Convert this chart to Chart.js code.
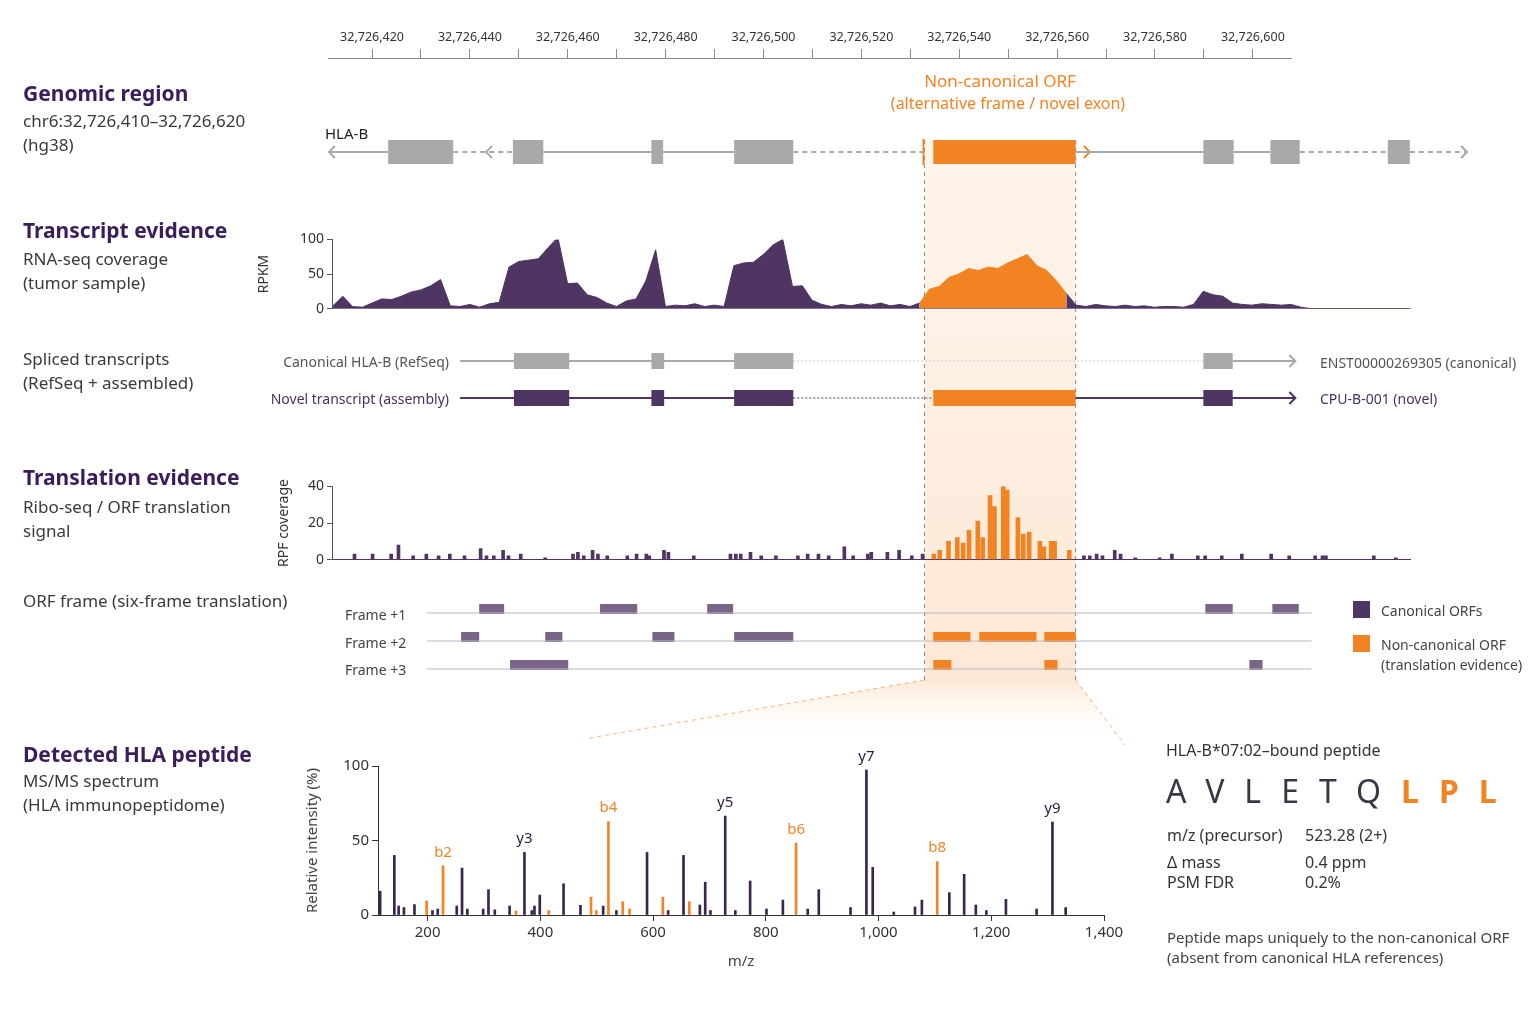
<!DOCTYPE html>
<html><head><meta charset="utf-8">
<script src="https://cdn.jsdelivr.net/npm/chart.js@4.4.1/dist/chart.umd.min.js"></script>
<style>
body{margin:0;background:#fff;width:1536px;height:1024px;position:relative;overflow:hidden;font-family:"Noto Sans",sans-serif}
canvas{position:absolute}
.t{position:absolute;white-space:nowrap;transform:translateY(-50%);color:#333}
.h{font-weight:700;font-size:21px;color:#3b1d5a}
.s{font-size:17px;color:#3a3a3a;line-height:24px}
</style></head><body>
<script>
// ---------------- DATA ----------------
const genomeTicks = [420,440,460,480,500,520,540,560,580,600]; // 32,726,xxx
const orfRange = [532.9, 563.8];
// RNA-seq coverage (RPKM), 2-bp bins starting at 32,726,412
const rnaStart = 412, rnaStep = 2;
const rnaCoverage = [4,18,3,2,8,14,13,18,24,27,33,42,4,3,6,2,7,9,60,68,70,72,88,103,36,37,20,16,8,3,11,14,40,85,3,5,4,7,3,5,3,62,66,67,78,92,100,32,33,12,6,3,6,4,7,5,8,4,6,3,8,28,32,45,50,58,55,60,58,66,72,78,62,55,40,22,5,3,6,4,3,5,3,4,2,3,3,2,6,25,20,18,8,6,5,7,6,5,6,2,0,0,0,0,0,0,0,0,0,0,0];
const orfBins = [60,75];
// Ribo-seq RPF coverage
const riboPos = [416.4,420.1,423.9,425.4,428.4,431.1,433.6,435.9,438.9,442.2,443.4,444.9,446.8,447.9,450.4,455.4,461.1,462.1,463.3,465.1,466.2,468.1,472.2,474.1,476.1,476.7,479.7,480.6,485.8,493.3,494.4,495.4,497.4,499.6,502.6,507.1,509.1,511.3,513.4,516.6,518.4,521.4,522.1,525.4,527.8,530.4,532.6,565.6,566.8,568.2,569.4,571.9,573.1,576.1,581.1,583.6,588.9,590.4,593.8,597.9,603.9,607.6,612.9,614.4,615.1,624.9,629.4];
const riboVal = [3,3,3,8,2,3,2,3,2,6,2,2,5,2,3,1,3,4,2,5,3,2,2,3,3,2,5,4,2,3,3,3,4,2,2,2,3,3,2,7,2,3,4,4,5,2,3,2,2,3,2,5,3,1,1,3,2,2,2,3,3,2,2,2,2,2,1];
const riboOrfPos = [534.9,536.1,537.9,539.7,540.9,542.1,543.9,544.9,546.4,547.3,549.1,549.9,552.1,553.2,554.4,556.6,557.4,558.9,559.6,562.6];
const riboOrfVal = [3,5,10,12,9,16,21,12,35,29,40,38,23,14,15,10,7,10,10,5];
// Gene model exons (HLA-B), genomic coords
const geneExons = [[423.3,436.6],[448.8,455.0],[477.1,479.5],[494.0,506.1],[589.9,596.1],[603.6,609.6],[627.6,632.1]];
const transcriptExons = [[449.0,460.3],[477.1,479.7],[494.0,506.1],[589.9,595.9]];
const transcriptSpan = [438.0,608.7];
// Frames
const frame1 = [[441.9,447.0],[466.6,474.2],[488.5,493.8],[590.3,595.9],[604.0,609.4]];
const frame2 = [[438.2,441.9],[455.4,458.9],[477.3,481.8],[494.0,506.1]];
const frame2Orf = [[534.7,542.3],[544.1,555.8],[557.4,563.8]];
const frame3 = [[448.2,460.1],[599.3,602.0]];
const frame3Orf = [[534.7,538.4],[557.4,560.1]];
const frameSpan = [431.2,612.0];
// MS/MS spectrum
const specMz = [115.8,141,148.6,158,176.7,208.6,218,251.7,261.1,270.5,298.6,308,319.2,345.5,371.8,384.9,389.6,399,441.2,471.2,511.5,534.9,589.3,626.8,654,683,692.5,701.8,728,745.9,772.2,801.2,830.3,874.4,894,950.3,978.5,989.7,1027,1064.7,1076.9,1125.6,1151.9,1172.6,1191.3,1226,1280.4,1308.5,1332];
const specInt = [16,40,6,5,7,3,4,6,31.5,4,4,17,3.5,6,42,3,6,13.4,21,6.5,6,3,42,3,40,6.7,22,3,66.4,3,22.8,4,10,4,17,5,97.3,32,2,5.4,10,15,27.3,6.7,3,10.5,4,62.4,5];
const specOrfMz = [198.3,227.4,356.8,414.9,489.9,499.3,520.8,546.2,558.4,617.4,664.3,853.7,1104];
const specOrfInt = [9.4,33,2.7,3,12,3,62.6,9,4,12,9,48.3,35.8];
const ionLabels = [["b2",227.4,"o"],["y3",371.8,"p"],["b4",520.8,"o"],["y5",728,"p"],["b6",853.7,"o"],["y7",978.5,"p"],["b8",1104,"o"],["y9",1308.5,"p"]];

// ---------------- STYLE ----------------
const PURPLE='#4f3562', ORANGE='#f28322', GRAY='#a9a9a9', DARK='#3b1d5a';
Chart.defaults.font.family='"Noto Sans", sans-serif';
Chart.defaults.color='#333';
Chart.defaults.animation=false;
Chart.defaults.plugins.legend.display=false;
Chart.defaults.plugins.tooltip.enabled=false;

function mk(left,top,w,h,z){const c=document.createElement('canvas');c.width=w;c.height=h;c.style.left=left+'px';c.style.top=top+'px';c.style.width=w+'px';c.style.height=h+'px';c.style.zIndex=z||1;document.body.appendChild(c);return c.getContext('2d');}
function txt(x,y,s,css,align){const d=document.createElement('div');d.className='t';d.innerHTML=s;d.style.left=x+'px';d.style.top=y+'px';if(css)d.style.cssText+=css;if(align==='r'){d.style.transform='translate(-100%,-50%)';}if(align==='c'){d.style.transform='translate(-50%,-50%)';}d.style.zIndex=5;document.body.appendChild(d);return d;}

// ---------------- TRACK LAYER (full page) ----------------
const PXBP=4.893, X0=411-328/PXBP, X1=X0+1536/PXBP;
const ROW={gene:152,canon:361,novel:398,f1:613,f2:641,f3:669};
const tds=[];
function seg(a,b,y,col,w,dash){tds.push({data:[{x:a,y:y},{x:b,y:y}],borderColor:col,borderWidth:w,borderDash:dash||[],borderCapStyle:'butt',pointRadius:0,showLine:true,fill:false});}
function chev(x,y,dir,col){const d=6/PXBP*dir;tds.push({data:[{x:x-d,y:y-6},{x:x,y:y},{x:x-d,y:y+6}],borderColor:col,borderWidth:2,pointRadius:0,showLine:true,fill:false});}
// gene model
seg(411.4,423.3,ROW.gene,GRAY,2); seg(436.6,448.8,ROW.gene,GRAY,2,[5,4]);
seg(455,477.1,ROW.gene,GRAY,2); seg(479.5,494,ROW.gene,GRAY,2);
seg(506.1,532.9,ROW.gene,GRAY,2,[5,4]); seg(563.8,589.9,ROW.gene,GRAY,2);
seg(596.1,603.6,ROW.gene,GRAY,2); seg(609.6,627.6,ROW.gene,GRAY,2,[5,4]); seg(632.1,643.6,ROW.gene,GRAY,2,[5,4]);
chev(411.2,ROW.gene,-1,GRAY); chev(443.3,ROW.gene,-1,GRAY); chev(643.8,ROW.gene,1,GRAY);
geneExons.forEach(e=>seg(e[0],e[1],ROW.gene,GRAY,24));
seg(orfRange[0]-0.4,orfRange[0],ROW.gene,ORANGE,26);
seg(534.7,563.8,ROW.gene,ORANGE,24); chev(566.7,ROW.gene,1,ORANGE);
// transcripts
seg(transcriptSpan[0],506.1,ROW.canon,GRAY,2); seg(506.1,589.9,ROW.canon,'#c8c8c8',1,[2,2]); seg(595.9,transcriptSpan[1],ROW.canon,GRAY,2);
chev(transcriptSpan[1],ROW.canon,1,GRAY);
transcriptExons.forEach(e=>seg(e[0],e[1],ROW.canon,GRAY,16));
seg(transcriptSpan[0],506.1,ROW.novel,PURPLE,2); seg(506.1,534.7,ROW.novel,PURPLE,1,[2,2]); seg(563.8,transcriptSpan[1],ROW.novel,PURPLE,2);
chev(transcriptSpan[1],ROW.novel,1,PURPLE);
transcriptExons.forEach(e=>seg(e[0],e[1],ROW.novel,PURPLE,16));
seg(534.7,563.8,ROW.novel,ORANGE,16);
// frames
[['f1',frame1,[]],['f2',frame2,frame2Orf],['f3',frame3,frame3Orf]].forEach(([k,p,o])=>{
  seg(frameSpan[0],frameSpan[1],ROW[k],'#b9b9c2',1.2);
  p.forEach(e=>seg(e[0],e[1],ROW[k]-4,'#7a6488',10));
  o.forEach(e=>seg(e[0],e[1],ROW[k]-4,ORANGE,10));
});
const bandPlugin={id:'band',beforeDatasetsDraw(ch){const c=ch.ctx,x=ch.scales.x,y=ch.scales.y;
  const a=x.getPixelForValue(orfRange[0]),b=x.getPixelForValue(orfRange[1]);
  const t=y.getPixelForValue(140),bt=y.getPixelForValue(680);
  c.save();
  let g=c.createLinearGradient(0,t,0,bt);g.addColorStop(0,'rgba(253,236,220,0.55)');g.addColorStop(1,'rgba(252,224,198,0.75)');
  c.fillStyle=g;c.fillRect(a,t,b-a,bt-t);
  const fl=x.getPixelForValue(X0+590/PXBP), fr=x.getPixelForValue(X0+1125/PXBP), fb=y.getPixelForValue(745);
  g=c.createLinearGradient(0,bt,0,fb);g.addColorStop(0,'rgba(252,224,198,0.7)');g.addColorStop(1,'rgba(255,255,255,0)');
  c.fillStyle=g;c.beginPath();c.moveTo(a,bt);c.lineTo(b,bt);c.lineTo(fr,fb);c.lineTo(fl,fb-7);c.closePath();c.fill();
  c.setLineDash([4,4]);c.strokeStyle='rgba(242,131,34,0.6)';c.lineWidth=1;
  c.beginPath();c.moveTo(a,bt);c.lineTo(fl,fb-7);c.moveTo(b,bt);c.lineTo(fr,fb);c.stroke();
  c.strokeStyle='#8a8a8a';c.beginPath();c.moveTo(a,t);c.lineTo(a,bt);c.moveTo(b,t);c.lineTo(b,bt);c.stroke();
  c.restore();}};
new Chart(mk(0,0,1536,1024,0),{type:'scatter',data:{datasets:tds},plugins:[bandPlugin],
 options:{responsive:false,devicePixelRatio:1,layout:{padding:0},scales:{x:{type:'linear',min:X0,max:X1,display:false},y:{min:0,max:1024,reverse:true,display:false}}}});

// ---------------- GENOME AXIS ----------------
new Chart(mk(328,10,964,50),{type:'scatter',data:{datasets:[{data:[]}]},options:{responsive:false,devicePixelRatio:1,layout:{padding:0},
 scales:{y:{display:false,min:0,max:1},x:{type:'linear',position:'top',min:411,max:608,offset:false,
  afterBuildTicks:s=>{s.ticks=[];for(let v=420;v<=600;v+=10)s.ticks.push({value:v});},
  afterFit:s=>{s.height=48;},
  ticks:{autoSkip:false,maxRotation:0,font:{size:12.5},color:'#333',padding:4,callback:v=>genomeTicks.includes(v)?'32,726,'+v:''},
  grid:{drawOnChartArea:false,tickLength:9,color:'#8a8a8a'},border:{color:'#8a8a8a'}}}}});

// ---------------- RNA-seq ----------------
const rnaPurple=rnaCoverage.map((v,i)=>({x:rnaStart+i*rnaStep,y:(i>orfBins[0]&&i<orfBins[1])?null:v}));
const rnaOrange=rnaCoverage.map((v,i)=>({x:rnaStart+i*rnaStep,y:(i>=orfBins[0]&&i<=orfBins[1])?v:null}));
new Chart(mk(252,228,1170,92),{type:'line',data:{datasets:[
 {data:rnaPurple,borderColor:PURPLE,backgroundColor:PURPLE,borderWidth:1,fill:'origin',pointRadius:0,spanGaps:false},
 {data:rnaOrange,borderColor:ORANGE,backgroundColor:ORANGE,borderWidth:1,fill:'origin',pointRadius:0}]},
 options:{responsive:false,devicePixelRatio:1,layout:{padding:{top:10,bottom:10,right:12}},
 scales:{x:{type:'linear',min:411.8,max:632.3,offset:false,ticks:{display:false},grid:{display:false,drawTicks:false},border:{color:'#8a7a96'},afterFit:s=>{s.height=0;}},
  y:{min:0,max:100,afterFit:s=>{s.width=80;},ticks:{stepSize:50,font:{size:14},color:'#333'},grid:{drawOnChartArea:false,tickLength:5,color:'#555'},border:{color:'#555'},
   title:{display:true,text:'RPKM',font:{size:14},color:'#333',padding:{bottom:10}}}}}});

// ---------------- Ribo-seq ----------------
new Chart(mk(272,475,1150,96),{type:'bar',data:{datasets:[
 {data:riboPos.map((x,i)=>({x,y:riboVal[i]})),backgroundColor:PURPLE,barThickness:3},
 {data:riboOrfPos.map((x,i)=>({x,y:riboOrfVal[i]})),backgroundColor:ORANGE,barThickness:4}]},
 options:{responsive:false,devicePixelRatio:1,layout:{padding:{top:10,bottom:10,right:12}},
 datasets:{bar:{grouped:false}},
 scales:{x:{type:'linear',min:411.8,max:632.3,offset:false,ticks:{display:false},grid:{display:false,drawTicks:false,offset:false},border:{color:PURPLE},afterFit:s=>{s.height=0;}},
  y:{min:0,max:40,afterFit:s=>{s.width=60;},ticks:{stepSize:20,font:{size:14},color:'#333'},grid:{drawOnChartArea:false,tickLength:5,color:'#555'},border:{color:'#555'},
   title:{display:true,text:'RPF coverage',font:{size:14},color:'#333',padding:{bottom:4}}}}}});

// ---------------- Spectrum ----------------
const ionPlugin={id:'ions',afterDatasetsDraw(ch){const c=ch.ctx,x=ch.scales.x,y=ch.scales.y;c.save();c.font='15px "Noto Sans"';c.textAlign='center';c.textBaseline='bottom';
 ionLabels.forEach(([l,mz,k])=>{const arr=k==='o'?specOrfMz:specMz,vals=k==='o'?specOrfInt:specInt;const v=vals[arr.indexOf(mz)];
  c.fillStyle=k==='o'?ORANGE:'#2c1a40';c.fillText(l,x.getPixelForValue(mz),y.getPixelForValue(v)-6);});c.restore();}};
new Chart(mk(300,746,830,229),{type:'bar',data:{datasets:[
 {data:specMz.map((x,i)=>({x,y:specInt[i]})),backgroundColor:'#3a2550',barThickness:2},
 {data:specOrfMz.map((x,i)=>({x,y:specOrfInt[i]})),backgroundColor:ORANGE,barThickness:2}]},plugins:[ionPlugin],
 options:{responsive:false,devicePixelRatio:1,layout:{padding:{top:20,right:26}},datasets:{bar:{grouped:false}},
 scales:{x:{type:'linear',min:112,max:1400,offset:false,afterBuildTicks:s=>{s.ticks=[200,400,600,800,1000,1200,1400].map(v=>({value:v}));},afterFit:s=>{s.height=60;},
   ticks:{font:{size:15},color:'#333',maxRotation:0,callback:v=>v.toLocaleString('en-US')},grid:{drawOnChartArea:false,tickLength:6,color:'#333',offset:false},border:{color:'#333'},
   title:{display:true,text:'m/z',font:{size:15},color:'#444',padding:{top:2}}},
  y:{min:0,max:100,afterFit:s=>{s.width=78;},ticks:{stepSize:50,font:{size:15},color:'#333'},grid:{drawOnChartArea:false,tickLength:6,color:'#333'},border:{color:'#333'},
   title:{display:true,text:'Relative intensity (%)',font:{size:15},color:'#444',padding:{bottom:8}}}}}});

// ---------------- TEXT ----------------
function block(x,y,s,cls){txt(x,y,s);document.body.lastChild.className='t '+cls;}
block(23,93,'Genomic region','h');
block(23,121,'chr6:32,726,410–32,726,620','s');
block(23,145,'(hg38)','s');
block(23,230,'Transcript evidence','h');
block(23,259,'RNA-seq coverage','s');
block(23,283,'(tumor sample)','s');
block(23,359,'Spliced transcripts','s');
block(23,383,'(RefSeq + assembled)','s');
block(23,477,'Translation evidence','h');
block(23,507,'Ribo-seq / ORF translation','s');
block(23,531,'signal','s');
block(23,601,'ORF frame (six-frame translation)','s');
block(23,754,'Detected HLA peptide','h');
block(23,781,'MS/MS spectrum','s');
block(23,805,'(HLA immunopeptidome)','s');

txt(325,133,'HLA-B','font-size:15px;color:#222');
txt(1000,80,'Non-canonical ORF','font-size:17px;color:'+ORANGE,'c');
txt(1008,103,'(alternative frame / novel exon)','font-size:16px;color:'+ORANGE,'c');
txt(449,361,'Canonical HLA-B (RefSeq)','font-size:14px;color:#555','r');
txt(449,398,'Novel transcript (assembly)','font-size:14px;color:#4a3060','r');
txt(1320,362,'ENST00000269305 (canonical)','font-size:14px;color:#555');
txt(1320,398,'CPU-B-001 (novel)','font-size:14px;color:#4a3060');
txt(345,614,'Frame +1','font-size:14px;color:#444');
txt(345,642,'Frame +2','font-size:14px;color:#444');
txt(345,669,'Frame +3','font-size:14px;color:#444');
const sq=(x,y,c)=>{const d=document.createElement('div');d.style.cssText=`position:absolute;left:${x}px;top:${y}px;width:17px;height:17px;background:${c}`;document.body.appendChild(d);};
sq(1353,601,PURPLE);sq(1353,635,ORANGE);
txt(1381,610,'Canonical ORFs','font-size:14px;color:#444');
txt(1381,644,'Non-canonical ORF','font-size:14px;color:#444');
txt(1381,664,'(translation evidence)','font-size:14px;color:#444');

txt(1166,750,'HLA-B*07:02–bound peptide','font-size:16px;color:#333');
txt(1166,790,'AVLETQ<span style="color:'+ORANGE+';font-weight:700">LPL</span>','font-size:32px;letter-spacing:20px;color:#3b3646');
txt(1167,835,'m/z (precursor)','font-size:16px;color:#333');txt(1305,835,'523.28 (2+)','font-size:16px;color:#333');
txt(1167,862,'Δ mass','font-size:16px;color:#333');txt(1305,862,'0.4 ppm','font-size:16px;color:#333');
txt(1167,882,'PSM FDR','font-size:16px;color:#333');txt(1305,882,'0.2%','font-size:16px;color:#333');
txt(1167,937,'Peptide maps uniquely to the non-canonical ORF','font-size:15px;color:#444');
txt(1167,957,'(absent from canonical HLA references)','font-size:15px;color:#444');
</script>
</body></html>
